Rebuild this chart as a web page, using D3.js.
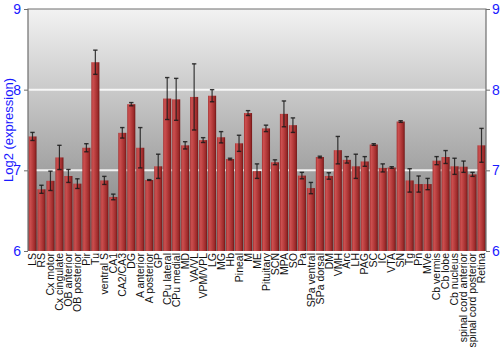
<!DOCTYPE html>
<html>
<head>
<meta charset="utf-8">
<script src="https://cdn.jsdelivr.net/npm/d3@7"></script>
<style>
  html, body { margin: 0; padding: 0; background: #ffffff; }
  svg { display: block; }
</style>
</head>
<body>
<svg id="chart" width="500" height="350"></svg>
<script>
const categories = ["LS","RS","Cx motor","Cx cingulate","OB anterior","OB posterior","Pir","Tu","ventral S","CA1","CA2/CA3","DG","A anterior","A posterior","GP","CPu lateral","CPu medial","MD","VA/VL","VPM/VPL","LG","MG","Hb","Pineal","M","ME","Pituitary","SCN","MPA","SO","Pa","SPa ventral","SPa dorsal","DM","VMH","Arc","LH","PAG","SC","IC","VTA","SN","Tg","Pn","MVe","Cb vermis","Cb lobe","Cb nucleus","spinal cord anterior","spinal cord posterior","Retina"];
const values = [7.42,6.765,6.87,7.16,6.93,6.835,7.28,8.34,6.875,6.67,7.465,7.82,7.28,6.88,7.05,7.89,7.88,7.31,7.91,7.375,7.925,7.41,7.14,7.335,7.71,6.99,7.52,7.10,7.70,7.56,6.935,6.78,7.165,6.93,7.25,7.13,7.05,7.11,7.32,7.03,7.035,7.605,6.875,6.83,6.83,7.12,7.165,7.05,7.045,6.95,7.31];
const errors = [0.05,0.05,0.12,0.15,0.08,0.06,0.05,0.15,0.05,0.035,0.065,0.02,0.25,0.005,0.15,0.26,0.26,0.045,0.41,0.03,0.075,0.07,0.01,0.1,0.03,0.09,0.04,0.03,0.16,0.09,0.04,0.07,0.01,0.04,0.17,0.04,0.15,0.06,0.01,0.05,0.01,0.01,0.145,0.1,0.07,0.05,0.08,0.1,0.07,0.025,0.21];
const yTicks = [6, 7, 8, 9];
const yLabel = "Log2 (expression)";

(function () {
const svg = d3.select("#chart");
const mLeft = 28, mRight = 486, mTop = 9, mBottom = 251;

const x = d3.scaleBand().domain(categories).range([mLeft, mRight]).paddingInner(0.1).paddingOuter(0.05);
const y = d3.scaleLinear().domain([6, 9]).range([mBottom, mTop]);

const defs = svg.append("defs");
const bg = defs.append("linearGradient").attr("id", "bg").attr("x1", 0).attr("y1", 0).attr("x2", 0).attr("y2", 1);
bg.append("stop").attr("offset", "0%").attr("stop-color", "#f2f2f2");
bg.append("stop").attr("offset", "100%").attr("stop-color", "#7a7a7a");

const bar = defs.append("linearGradient").attr("id", "bar").attr("x1", 0).attr("y1", 0).attr("x2", 1).attr("y2", 0);
[["0%", "#a53030"], ["20%", "#cc5050"], ["45%", "#bb4040"], ["80%", "#9c2a2a"], ["100%", "#6e1515"]]
  .forEach(([o, c]) => bar.append("stop").attr("offset", o).attr("stop-color", c));

// plot background
svg.append("rect").attr("x", mLeft).attr("y", mTop).attr("width", mRight - mLeft).attr("height", mBottom - mTop)
  .attr("fill", "url(#bg)");

// gridlines
svg.append("g").selectAll("line").data(yTicks.filter(t => t > 6 && t < 9)).join("line")
  .attr("x1", mLeft).attr("x2", mRight).attr("y1", d => y(d)).attr("y2", d => y(d))
  .attr("stroke", "#ffffff").attr("stroke-opacity", 0.85).attr("stroke-width", 2);

// bars
svg.append("g").selectAll("rect").data(categories).join("rect")
  .attr("x", d => x(d)).attr("width", x.bandwidth())
  .attr("y", (d, i) => y(values[i])).attr("height", (d, i) => y(6) - y(values[i]))
  .attr("fill", "url(#bar)");

// error bars
const eg = svg.append("g").attr("stroke", "#1a1a1a").attr("stroke-opacity", 0.85).attr("stroke-width", 1.2);
categories.forEach((c, i) => {
  const cx = x(c) + x.bandwidth() / 2;
  const y1 = y(values[i] + errors[i]), y2 = y(values[i] - errors[i]);
  eg.append("line").attr("x1", cx).attr("x2", cx).attr("y1", y1).attr("y2", y2);
  eg.append("line").attr("x1", cx - 2.2).attr("x2", cx + 2.2).attr("y1", y1).attr("y2", y1).attr("stroke-width", 1.4);
  eg.append("line").attr("x1", cx - 2.2).attr("x2", cx + 2.2).attr("y1", y2).attr("y2", y2).attr("stroke-width", 1.4);
});

// frame
svg.append("path")
  .attr("d", `M${mLeft},${mBottom}V${mTop}H${mRight}V${mBottom}`)
  .attr("fill", "none").attr("stroke", "#6e6e6e").attr("stroke-width", 1.2);

// axes
const leftAxis = d3.axisLeft(y).tickValues(yTicks).tickSize(4).tickPadding(3).tickFormat(d3.format("d"));
const rightAxis = d3.axisRight(y).tickValues(yTicks).tickSize(4).tickPadding(2).tickFormat(d3.format("d"));
function styleAxis(g) {
  g.select(".domain").remove();
  g.selectAll(".tick line").attr("stroke", "#6e6e6e");
  g.selectAll(".tick text").attr("fill", "#1a1aff").style("font-family", "Liberation Sans, Arial, sans-serif").style("font-size", "14px");
}
svg.append("g").attr("transform", `translate(${mLeft},0)`).call(leftAxis).call(styleAxis);
svg.append("g").attr("transform", `translate(${mRight},0)`).call(rightAxis).call(styleAxis);

// y label
svg.append("text")
  .attr("transform", `translate(13,${(mTop + mBottom) / 2}) rotate(-90)`)
  .attr("text-anchor", "middle")
  .attr("fill", "#1a1aff")
  .style("font-family", "Liberation Sans, Arial, sans-serif")
  .style("font-size", "13px")
  .text(yLabel);

// x labels
svg.append("g").selectAll("text").data(categories).join("text")
  .attr("transform", d => `translate(${x(d) + x.bandwidth() / 2},${mBottom + 2}) rotate(-90)`)
  .attr("text-anchor", "end")
  .attr("dy", "0.35em")
  .attr("fill", "#111")
  .style("font-family", "Liberation Sans, Arial, sans-serif")
  .style("font-size", "10.5px")
  .text(d => d);
})();
</script>
</body>
</html>
